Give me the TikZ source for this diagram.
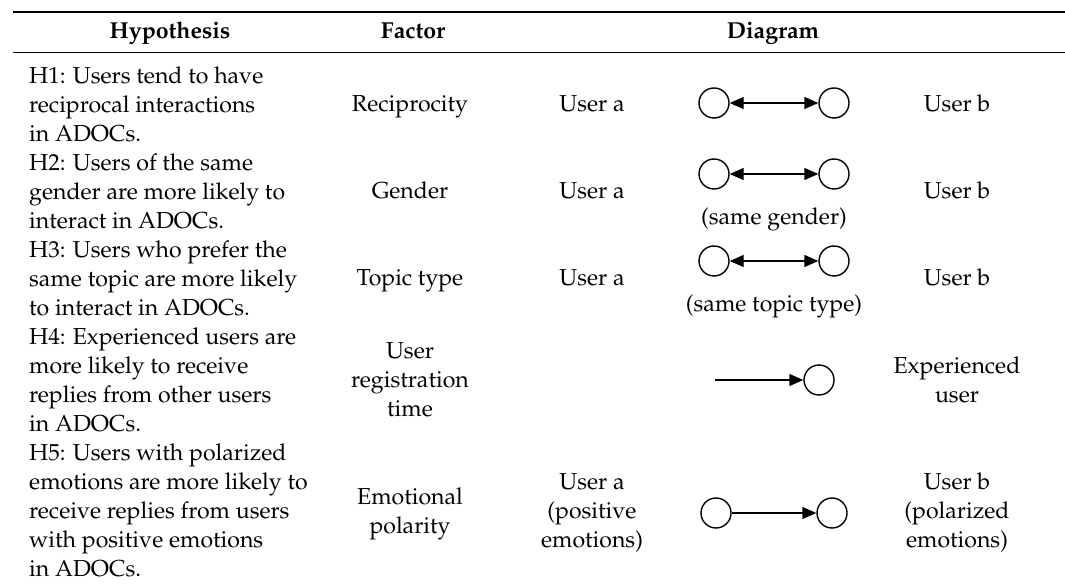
\documentclass[tikz,border=0pt]{standalone}
\usepackage[T1]{fontenc}
\usepackage{mathpazo}
\usetikzlibrary{arrows.meta}

\begin{document}
\begin{tikzpicture}[x=1pt,y=-1pt,
        every node/.style={inner sep=0pt, font=\fontsize{23.1}{29}\selectfont},
        head/.style={anchor=base, font=\fontsize{23.1}{29}\selectfont\bfseries},
        cell/.style={anchor=base},
        block/.style={anchor=north, align=center},
        hyp/.style={anchor=north west, align=left},
        user/.style={circle, draw, line width=1.4pt, minimum size=30pt},
        link/.style={line width=1.4pt, -{Triangle[length=14pt,width=12pt]}},
        mutual/.style={line width=1.4pt, {Triangle[length=14pt,width=12pt]}-{Triangle[length=14pt,width=12pt]}}]
        \useasboundingbox (0,0) rectangle (1065,585);

        % rules
        \draw[line width=2pt] (13,12) -- (1065,12);
        \draw[line width=1pt] (13,53) -- (1065,53);

        % header
        \node[head] (thyp) at (170,39) {Hypothesis};
        \node[head] (tfac) at (413,39) {Factor};
        \node[head] (tdia) at (773,39) {Diagram};

        % hypotheses
        \node[hyp] (h1) at (29,62.7) {\strut H1: Users tend to have\\reciprocal interactions\\in ADOCs.};
        \node[hyp] (h2) at (29,149.7) {\strut H2: Users of the same\\gender are more likely to\\interact in ADOCs.};
        \node[hyp] (h3) at (29,236.7) {\strut H3: Users who prefer the\\same topic are more likely\\to interact in ADOCs.};
        \node[hyp] (h4) at (29,323.7) {\strut H4: Experienced users are\\more likely to receive\\replies from other users\\in ADOCs.};
        \node[hyp] (h5) at (29,439.7) {\strut H5: Users with polarized\\emotions are more likely to\\receive replies from users\\with positive emotions\\in ADOCs.};

        % factors
        \node[cell] (f1) at (410,112) {Reciprocity};
        \node[cell] (f2) at (410,199) {Gender};
        \node[cell] (f3) at (410,286) {Topic type};
        \node[block] (f4) at (410,337.7) {\strut User\\registration\\time};
        \node[block] (f5) at (410,483.7) {\strut Emotional\\polarity};

        % user labels
        \node[cell] (ua1) at (592,112) {User a};
        \node[cell] (ua2) at (592,199) {User a};
        \node[cell] (ua3) at (592,286) {User a};
        \node[block] (ua5) at (592,468.7) {\strut User a\\(positive\\emotions)};
        \node[cell] (ub1) at (957,112) {User b};
        \node[cell] (ub2) at (957,199) {User b};
        \node[cell] (ub3) at (957,286) {User b};
        \node[block] (ub4) at (957,352.7) {\strut Experienced\\user};
        \node[block] (ub5) at (957,468.7) {\strut User b\\(polarized\\emotions)};

        % diagrams
        \node[user] (a1) at (714,103) {};
        \node[user] (b1) at (834,103) {};
        \node[user] (a2) at (714,174) {};
        \node[user] (b2) at (834,174) {};
        \node[cell] (g2) at (774,225) {(same gender)};
        \node[user] (a3) at (714,261) {};
        \node[user] (b3) at (834,261) {};
        \node[cell] (g3) at (774,312) {(same topic type)};
        \coordinate (a4) at (715,380);
        \node[user] (b4) at (819,380) {};
        \node[user] (a5) at (716,513) {};
        \node[user] (b5) at (832,513) {};

        \draw[mutual] (a1) -- (b1);
        \draw[mutual] (a2) -- (b2);
        \draw[mutual] (a3) -- (b3);
        \draw[link] (a4) -- (b4);
        \draw[link] (a5) -- (b5);

    \end{tikzpicture}
\end{document}
